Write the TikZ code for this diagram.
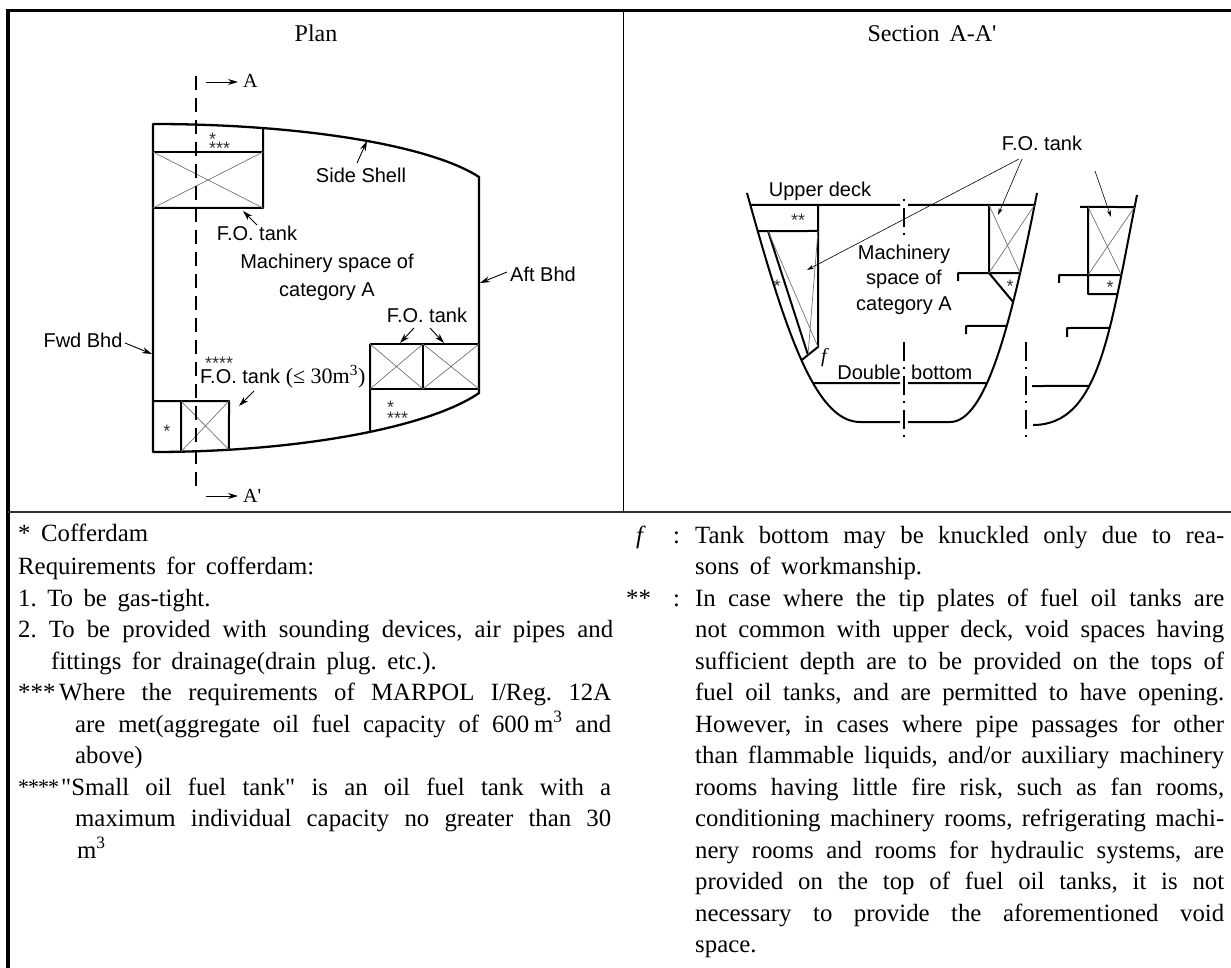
\documentclass[tikz,border=0pt]{standalone}
\usepackage{fontspec}
\setmainfont{Liberation Serif}
\newfontfamily\lsans{Liberation Sans}
\usetikzlibrary{intersections,arrows.meta}
\newcommand\bfontn{\fontsize{24.8}{28}\selectfont\frenchspacing\spaceskip=10.5pt\relax}
\newcommand\bfontj{\fontsize{24.8}{28}\selectfont\frenchspacing\spaceskip=6pt plus 60pt minus 2pt\relax}
\newcommand\jline[2]{\makebox[#1][s]{#2}}
\newcommand\stk[2]{\rlap{\raisebox{#1}{*}}#2}
\begin{document}
\begin{tikzpicture}[x=1pt,y=-1pt,
  hull/.style={line width=2pt, line join=round},
  xline/.style={line width=0.7pt, black!55},
  ptr/.style={line width=0.9pt, -{Stealth[length=10pt,width=6pt]}},
  tptr/.style={line width=0.6pt, -{Stealth[length=7pt,width=4pt]}},
  lbl/.style={font=\lsans\fontsize{20}{22}\selectfont, inner sep=0pt, anchor=base},
  astk/.style={font=\lsans\fontsize{18}{18}\selectfont, inner sep=0pt, anchor=base, black!80},
  ttl/.style={font=\fontsize{24}{28}\selectfont, inner sep=0pt, anchor=base},
  secA/.style={font=\fontsize{20}{22}\selectfont, inner sep=0pt, anchor=base west},
  bodyn/.style={font=\bfontn, inner sep=0pt, anchor=base west},
  bodyj/.style={font=\bfontj, inner sep=0pt, anchor=base west},
  cl/.style={line width=1.3pt, dash pattern=on 19pt off 6pt on 2pt off 7pt},
  pdash/.style={line width=1.8pt, dash pattern=on 14pt off 8pt},
]
\useasboundingbox (0,0) rectangle (1231,968);

% ---------- frame ----------
\draw[line width=3.5pt] (8,968) -- (8,10.5) -- (1231,10.5);
\draw[line width=1.5pt] (623.5,10.5) -- (623.5,512);
\draw[line width=1.5pt, black!80] (8,512) -- (1231,512);

\node[ttl] (tplan) at (316,42) {Plan};
\node[ttl] (tsec) at (932,42) {Section\hspace{10pt}A-A\textquotesingle};

% ---------- PLAN ----------
\path[name path=topc] (153,124) .. controls (300,124) and (430,145) .. (479,177);
\path[name path=botc] (479,393) .. controls (430,427) and (300,452) .. (153,452);
\draw[line width=2.3pt, line join=round] (153,124) .. controls (300,124) and (430,145) .. (479,177)
  -- (479,393) .. controls (430,427) and (300,452) .. (153,452) -- cycle;

\path[name path=v263] (263,100) -- (263,220);
\path[name intersections={of=topc and v263, by={T1}}];
\path[name path=v181] (181,380) -- (181,470);
\path[name intersections={of=botc and v181, by={B1}}];
\path[name path=v229] (229,380) -- (229,470);
\path[name intersections={of=botc and v229, by={B2}}];
\path[name path=v370] (370,380) -- (370,470);
\path[name intersections={of=botc and v370, by={B3}}];

% top tank
\draw[hull] (153,152) -- (263,152);
\draw[hull] (153,208) -- (263,208) -- (T1);
\draw[xline] (153,152) -- (263,208) (263,152) -- (153,208);
\node[astk, anchor=base west] (a1) at (209,155) {\stk{9pt}{***}};

% bottom-left tank
\draw[hull] (153,401) -- (229,401) -- (B2);
\draw[hull] (181,401) -- (B1);
\draw[xline] (181,401) -- (B2) (229,401) -- (B1);
\node[astk] (a3) at (167,437) {*};

% right tanks
\draw[hull] (370,344) -- (479,344);
\draw[hull] (370,389) -- (479,389);
\draw[hull] (370,344) -- (B3);
\draw[hull] (423,344) -- (423,389);
\draw[xline] (370,344) -- (423,389) (423,344) -- (370,389) (423,344) -- (479,389) (479,344) -- (423,389);
\node[astk, anchor=base west] (a4) at (387,424) {\stk{11pt}{***}};

% section line A-A'
\coordinate (dtop) at (196,76);
\coordinate (dbot) at (196,492);
\draw[pdash] (dtop) -- (dbot);
\coordinate (aA1) at (206,82); \coordinate (aA2) at (238,82);
\draw[ptr] (aA1) -- (aA2);
\node[secA] (lA) at (243,88) {A};
\coordinate (aB1) at (206,496); \coordinate (aB2) at (238,496);
\draw[ptr] (aB1) -- (aB2);
\node[secA] (lB) at (243,502) {A\textquotesingle};

% plan labels
\node[lbl] (sideshell) at (361,183) {Side Shell};
\coordinate (ss1) at (357,163); \coordinate (ss2) at (367,141);
\draw[ptr] (ss1) -- (ss2);

\node[lbl] (fo1) at (257,241) {F.O. tank};
\coordinate (f11) at (257,225); \coordinate (f12) at (243,211);
\draw[ptr] (f11) -- (f12);

\node[lbl] (mach1) at (327,269) {Machinery space of};
\node[lbl] (mach2) at (327,297) {category A};

\node[lbl] (aft) at (543,282) {Aft Bhd};
\coordinate (af1) at (507,272); \coordinate (af2) at (480,283);
\draw[ptr] (af1) -- (af2);

\node[lbl] (fo2) at (427,323) {F.O. tank};
\coordinate (f21) at (414,328); \coordinate (f22) at (400,343);
\coordinate (f23) at (430,328); \coordinate (f24) at (444,343);
\draw[ptr] (f21) -- (f22);
\draw[ptr] (f23) -- (f24);

\node[lbl] (fwd) at (83,347) {Fwd Bhd};
\coordinate (fw1) at (125,343); \coordinate (fw2) at (152,354);
\draw[ptr] (fw1) -- (fw2);

\node[lbl, anchor=base west] (fo3) at (200,383) {\rlap{\hspace{5pt}\raisebox{14pt}{\fontsize{18}{18}\selectfont\color{black!80}****}}F.O. tank {\rmfamily\fontsize{22}{24}\selectfont(≤ 30m\textsuperscript{3})}};
\coordinate (f31) at (254,391); \coordinate (f32) at (239,406);
\draw[ptr] (f31) -- (f32);

% ---------- SECTION (main) ----------
\path[name path=hl] (747,193) .. controls (785,330) and (815,422) .. (860,422);
\path[name path=hr] (950,422) .. controls (985,422) and (1010,330) .. (1037,193);
\draw[hull] (747,193) .. controls (785,330) and (815,422) .. (860,422) -- (900,422);
\draw[hull] (908,422) -- (950,422) .. controls (985,422) and (1010,330) .. (1037,193);

\path[name path=y205] (700,205) -- (1080,205);
\path[name path=y231] (700,231) -- (1080,231);
\path[name path=y273] (700,273) -- (1080,273);
\path[name path=y326] (700,326) -- (1080,326);
\path[name path=y383] (700,383) -- (1080,383);
\path[name path=cbl] (818,347) -- (770,385.4);
\path[name path=crl] (989,273) -- (1030,322.2);
\path[name intersections={of=hl and y205, by={dL}}];
\path[name intersections={of=hr and y205, by={dR}}];
\path[name intersections={of=hl and y231, by={vL}}];
\path[name intersections={of=hr and y273, by={rB}}];
\path[name intersections={of=hr and y326, by={rC}}];
\path[name intersections={of=hl and y383, by={dbL}}];
\path[name intersections={of=hr and y383, by={dbR}}];
\path[name intersections={of=hl and cbl, by={cB}}];
\path[name intersections={of=hr and crl, by={cR}}];

% deck
\draw[hull] (dL) -- (900,205);
\draw[hull] (908,205) -- (dR);
% left void + tank + cofferdam
\draw[hull] (vL) -- (818,231);
\draw[hull] (818,205) -- (818,347) -- (cB);
\draw[hull] (768,231) -- (808,355);
\draw[xline] (768,231) -- (818,347) (818,231) -- (808,355);
\node[astk] (a7) at (798,227) {**};
\node[astk] (a8) at (777,292) {*};
\node[font=\itshape\fontsize{20}{22}\selectfont, inner sep=0pt, anchor=base] (fk) at (824,362) {f};
% right tank
\draw[hull] (989,205) -- (989,273) -- (cR);
\draw[hull] (958,281) -- (958,273) -- (rB);
\draw[xline] (989,205) -- (rB) (dR) -- (989,273);
\node[astk] (a9) at (1010,292) {*};
\draw[hull] (966,334) -- (966,326) -- (rC);
% double bottom
\draw[hull] (dbL) -- (900,383);
\draw[hull] (908,383) -- (dbR);
% centre line
\coordinate (c1) at (904,199); \coordinate (c2) at (904,238);
\coordinate (c3) at (904,342); \coordinate (c4) at (904,440);
\draw[cl, dash phase=25pt] (c1) -- (c2);
\draw[cl] (c3) -- (c4);

\node[lbl] (upd) at (820,197) {Upper deck};
\node[lbl] (m1) at (904,260) {Machinery};
\node[lbl] (m2) at (904,285) {space of};
\node[lbl] (m3) at (904,310) {category A};
\node[lbl, anchor=base east] (db1) at (901,379) {Double};
\node[lbl, anchor=base west] (db2) at (911,379) {bottom};

\node[lbl] (fo4) at (1042,151) {F.O. tank};
\coordinate (s1) at (1019,159); \coordinate (s2) at (807,270);
\coordinate (s3) at (1022,159); \coordinate (s4) at (998,215);
\draw[tptr] (s1) -- (s2);
\draw[tptr] (s3) -- (s4);

% ---------- SECTION (partial) ----------
\path[name path=hp] (1033,425) .. controls (1100,425) and (1110,330) .. (1137,195);
\draw[hull] (1033,425) .. controls (1100,425) and (1110,330) .. (1137,195);
\path[name path=z207] (1000,207) -- (1200,207);
\path[name path=z275] (1000,275) -- (1200,275);
\path[name path=z294] (1000,294) -- (1200,294);
\path[name path=z328] (1000,328) -- (1200,328);
\path[name path=z386] (1000,386) -- (1200,386);
\path[name intersections={of=hp and z207, by={pA}}];
\path[name intersections={of=hp and z275, by={pB}}];
\path[name intersections={of=hp and z294, by={pC}}];
\path[name intersections={of=hp and z328, by={pD}}];
\path[name intersections={of=hp and z386, by={pE}}];
\draw[hull] (1080,207) -- (pA);
\draw[hull] (1088,207) -- (1088,294) -- (pC);
\draw[hull] (1059,283) -- (1059,275) -- (pB);
\draw[xline] (1088,207) -- (pB) (pA) -- (1088,275);
\node[astk] (a10) at (1110,294) {*};
\draw[hull] (1067,337) -- (1067,328) -- (pD);
\draw[hull] (1032,386) -- (pE);
\coordinate (c5) at (1026,342); \coordinate (c6) at (1026,442);
\draw[cl] (c5) -- (c6);
\coordinate (s5) at (1095,171); \coordinate (s6) at (1111,217);
\draw[tptr] (s5) -- (s6);

% ---------- NOTES (left) ----------
\node[bodyn] (L0) at (18,541) {* Cofferdam};
\node[bodyn] (L1) at (18,574) {Requirements for cofferdam:};
\node[bodyn] (L2) at (18,606) {1. To be gas-tight.};
\node[bodyj] (L3) at (18,637.5) {\jline{595pt}{2. To be provided with sounding devices, air pipes and}};
\node[bodyn] (L4) at (51,669) {fittings for drainage(drain plug. etc.).};
\node[bodyn] (L5a) at (18,700.5) {***};
\node[bodyj] (L5) at (59,700.5) {\jline{552pt}{Where the requirements of MARPOL I/Reg. 12A}};
\node[bodyj] (L6) at (75,732) {\jline{536pt}{are met(aggregate oil fuel capacity of 600\kern5pt m\textsuperscript{3} and}};
\node[bodyn] (L7) at (75,763.5) {above)};
\node[bodyn] (L8a) at (18,795) {\raisebox{1pt}{\fontsize{22}{22}\selectfont*\kern-1pt*\kern-1pt*\kern-1pt*}};
\node[bodyj] (L8) at (61,795) {\jline{550pt}{\textquotedbl Small oil fuel tank\textquotedbl{} is an oil fuel tank with a}};
\node[bodyj] (L9) at (75,826.5) {\jline{536pt}{maximum individual capacity no greater than 30}};
\node[bodyn] (L10) at (77,858) {m\textsuperscript{3}};

% ---------- NOTES (right) ----------
\node[bodyn, font={\bfontn\itshape}] (R0f) at (636,543) {f};
\node[bodyn] (R0c) at (673,543) {:};
\node[bodyj] (R0) at (695,543) {\jline{529pt}{Tank bottom may be knuckled only due to rea-}};
\node[bodyn] (R1) at (695,574.5) {sons of workmanship.};
\node[bodyn] (R2a) at (626,606) {**};
\node[bodyn] (R2c) at (673,606) {:};
\node[bodyj] (R2) at (695,606) {\jline{529pt}{In case where the tip plates of fuel oil tanks are}};
\node[bodyj] (R3) at (695,637.5) {\jline{529pt}{not common with upper deck, void spaces having}};
\node[bodyj] (R4) at (695,669) {\jline{529pt}{sufficient depth are to be provided on the tops of}};
\node[bodyj] (R5) at (695,700.5) {\jline{529pt}{fuel oil tanks, and are permitted to have opening.}};
\node[bodyj] (R6) at (695,732) {\jline{529pt}{However, in cases where pipe passages for other}};
\node[bodyj] (R7) at (695,763.5) {\jline{529pt}{than flammable liquids, and/or auxiliary machinery}};
\node[bodyj] (R8) at (695,795) {\jline{529pt}{rooms having little fire risk, such as fan rooms,}};
\node[bodyj] (R9) at (695,826.5) {\jline{529pt}{conditioning machinery rooms, refrigerating machi-}};
\node[bodyj] (R10) at (695,858) {\jline{529pt}{nery rooms and rooms for hydraulic systems, are}};
\node[bodyj] (R11) at (695,889.5) {\jline{529pt}{provided on the top of fuel oil tanks, it is not}};
\node[bodyj] (R12) at (695,921) {\jline{529pt}{necessary to provide the aforementioned void}};
\node[bodyn] (R13) at (695,952.5) {space.};
\end{tikzpicture}
\end{document}
